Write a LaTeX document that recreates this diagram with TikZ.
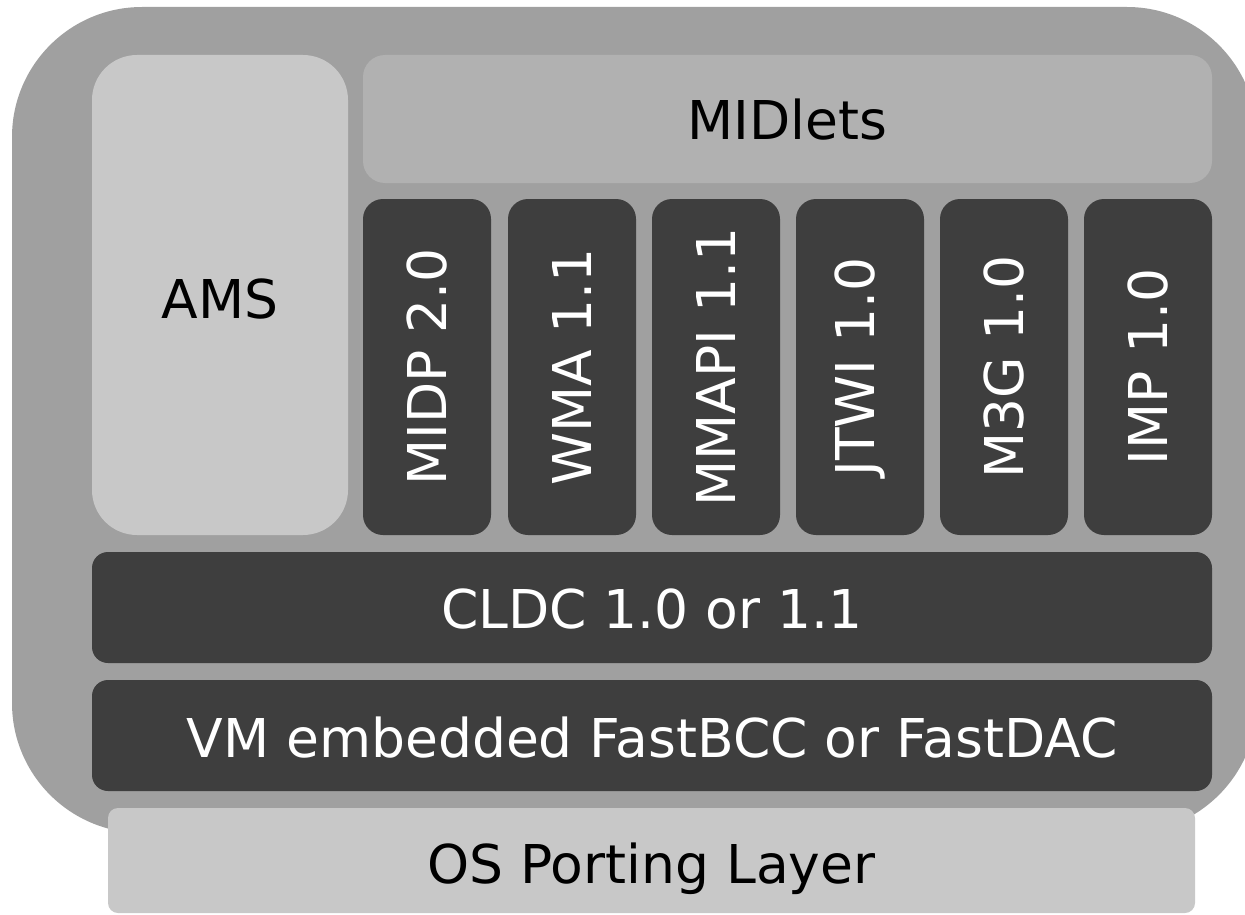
\documentclass[tikz,border=0pt]{standalone}
\usepackage{fontspec}
\setmainfont{DejaVu Sans}
\begin{document}
\begin{tikzpicture}[x=1pt,y=-1pt,
  layer/.style={inner sep=0pt, outer sep=0pt, font=\fontsize{53.5}{60}\selectfont},
  darkbox/.style={layer, fill=boxdark, text=white, rounded corners=20pt},
  lightbox/.style={layer, fill=boxlight, text=black},
  midbox/.style={layer, fill=boxmid, text=black, rounded corners=22pt}]
\definecolor{outergray}{HTML}{A0A0A0}
\definecolor{boxdark}{HTML}{3E3E3E}
\definecolor{boxlight}{HTML}{C8C8C8}
\definecolor{boxmid}{HTML}{B1B1B1}
\useasboundingbox (0,0) rectangle (1245,915);
\clip (0,0) rectangle (1245,915);
\fill[outergray, rounded corners=130pt] (12,7) rectangle (1257,833);
\node[lightbox, rounded corners=45pt, minimum width=256pt, minimum height=480pt, text height=46pt, text depth=0pt] (ams) at (220,295) {AMS};
\node[midbox, minimum width=849pt, minimum height=128pt, text height=42pt, text depth=0pt] (midlets) at (787.5,119) {MIDlets};
\node[darkbox, minimum width=128pt, minimum height=336pt] (midp) at (427,367) {\rotatebox{90}{MIDP 2.0}};
\node[darkbox, minimum width=128pt, minimum height=336pt] (wma) at (572,367) {\rotatebox{90}{WMA 1.1}};
\node[darkbox, minimum width=128pt, minimum height=336pt] (mmapi) at (716,367) {\rotatebox{90}{MMAPI 1.1}};
\node[darkbox, minimum width=128pt, minimum height=336pt] (jtwi) at (860,367) {\rotatebox{90}{JTWI 1.0}};
\node[darkbox, minimum width=128pt, minimum height=336pt] (m3g) at (1004,367) {\rotatebox{90}{M3G 1.0}};
\node[darkbox, minimum width=128pt, minimum height=336pt] (imp) at (1148,367) {\rotatebox{90}{IMP 1.0}};
\node[darkbox, rounded corners=16pt, minimum width=1120pt, minimum height=111pt, text height=41pt, text depth=0pt] (cldc) at (652,607.5) {CLDC 1.0 or 1.1};
\node[darkbox, rounded corners=16pt, minimum width=1120pt, minimum height=111pt, text height=43pt, text depth=0pt] (vm) at (652,735.5) {VM embedded FastBCC or FastDAC};
\node[lightbox, rounded corners=10pt, minimum width=1087pt, minimum height=105pt, text height=45pt, text depth=0pt] (os) at (651.5,860.5) {OS Porting Layer};
\end{tikzpicture}
\end{document}
